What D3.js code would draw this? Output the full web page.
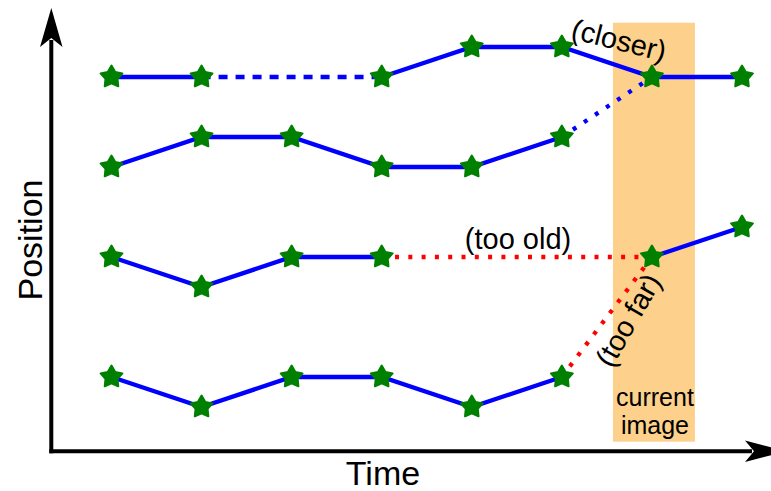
<!DOCTYPE html>
<html>
<head>
<meta charset="utf-8">
<script src="https://cdn.jsdelivr.net/npm/d3@7"></script>
<style>
  html, body { margin: 0; padding: 0; background: #fff; }
  svg { display: block; font-family: "Liberation Sans", Arial, sans-serif; }
</style>
</head>
<body>
<svg id="chart" width="771" height="491"></svg>
<script>
// ---- data (time steps and track positions) ----
const timeSteps = [0, 1, 2, 3, 4, 5, 6, 7];
const trackA = [12, 12, null, 12, 13, 13, 12, 12];
const trackB = [9, 10, 10, 9, 9, 10, null, null];
const trackC = [6, 5, 6, 6, null, null, 6, 7];
const trackD = [2, 1, 2, 2, 1, 2, null, null];
const tracks = [trackA, trackB, trackC, trackD];
// links across missing detections / to the current image
const gapLinks = [{ t0: 1, v0: 12, t1: 3, v1: 12 }];                 // bridged gap
const acceptedLinks = [{ t0: 5, v0: 10, t1: 6, v1: 12 }];            // (closer)
const rejectedLinks = [{ t0: 3, v0: 6, t1: 6, v1: 6 },               // (too old)
                       { t0: 5, v0: 2, t1: 6, v1: 6 }];              // (too far)
const currentTime = 6;
const labels = { x: "Time", y: "Position", closer: "(closer)", tooOld: "(too old)", tooFar: "(too far)", current: ["current", "image"] };

// ---- drawing ----
const svg = d3.select("#chart");
const x = d3.scaleLinear().domain([0, 7]).range([111.5, 742]);
const y = d3.scaleLinear().domain([0, 14]).range([437, 17]);

// current image band
svg.append("rect")
  .attr("x", x(currentTime) - 39).attr("y", 22.7)
  .attr("width", 82).attr("height", 419)
  .attr("fill", "#fdd18b");

// axes with arrowheads
const ax = svg.append("g");
ax.append("line").attr("x1", 51.3).attr("y1", 453.3).attr("x2", 51.3).attr("y2", 40)
  .attr("stroke", "#000").attr("stroke-width", 4);
ax.append("line").attr("x1", 49.3).attr("y1", 451.2).attr("x2", 752).attr("y2", 451.2)
  .attr("stroke", "#000").attr("stroke-width", 4);
ax.append("path").attr("d", "M51.3,8 L62.5,47 L51.3,38 L40,47 Z").attr("fill", "#000");
ax.append("path").attr("d", "M786,451.2 L745,440.5 L754,451.2 L745,462 Z").attr("fill", "#000");

// axis titles
svg.append("text").attr("x", 383).attr("y", 485).attr("text-anchor", "middle")
  .attr("font-size", 34).text(labels.x);
svg.append("text").attr("transform", "translate(42,240) rotate(-90)").attr("text-anchor", "middle")
  .attr("font-size", 34).text(labels.y);

// solid track lines
const line = d3.line().defined(d => d != null).x((d, i) => x(timeSteps[i])).y(d => y(d));
svg.append("g").selectAll("path").data(tracks).join("path")
  .attr("d", line).attr("fill", "none").attr("stroke", "#0000ff").attr("stroke-width", 4.3);

// links
function drawLinks(data, color, dash) {
  svg.append("g").selectAll("line").data(data).join("line")
    .attr("x1", d => x(d.t0)).attr("y1", d => y(d.v0))
    .attr("x2", d => x(d.t1)).attr("y2", d => y(d.v1))
    .attr("stroke", color).attr("stroke-width", 4.3).attr("stroke-dasharray", dash);
}
drawLinks(gapLinks, "#0000ff", "9,8");
drawLinks(acceptedLinks, "#0000ff", "4,9.3");
drawLinks(rejectedLinks, "#ff0000", "4,9.3");

// star markers
const starType = {
  draw(ctx, size) {
    const R = Math.sqrt(size), r = R * 0.55;
    for (let k = 0; k < 10; k++) {
      const a = -Math.PI / 2 + k * Math.PI / 5;
      const rr = k % 2 ? r : R;
      const px = rr * Math.cos(a), py = rr * Math.sin(a);
      if (k === 0) ctx.moveTo(px, py); else ctx.lineTo(px, py);
    }
    ctx.closePath();
  }
};
const star = d3.symbol().type(starType).size(11.5 * 11.5);
const pts = [];
tracks.forEach(tr => tr.forEach((v, i) => { if (v != null) pts.push({ t: timeSteps[i], v }); }));
svg.append("g").selectAll("path").data(pts).join("path")
  .attr("transform", d => `translate(${x(d.t)},${y(d.v)})`)
  .attr("d", star).attr("fill", "#008000")
  .attr("stroke", "#008000").attr("stroke-width", 2).attr("stroke-linejoin", "round");

// annotations
svg.append("text").attr("transform", "translate(619,40) rotate(14)").attr("text-anchor", "middle")
  .attr("dy", "0.35em").attr("font-size", 29).text(labels.closer);
svg.append("text").attr("x", 518).attr("y", 249).attr("text-anchor", "middle")
  .attr("font-size", 29).text(labels.tooOld);
svg.append("text").attr("transform", "translate(628,320) rotate(-60)").attr("text-anchor", "middle")
  .attr("dy", "0.35em").attr("font-size", 29).text(labels.tooFar);
const cur = svg.append("text").attr("text-anchor", "middle").attr("font-size", 25);
cur.selectAll("tspan").data(labels.current).join("tspan")
  .attr("x", x(currentTime) + 3).attr("y", (d, i) => 405.5 + i * 28.5).text(d => d);
</script>
</body>
</html>
